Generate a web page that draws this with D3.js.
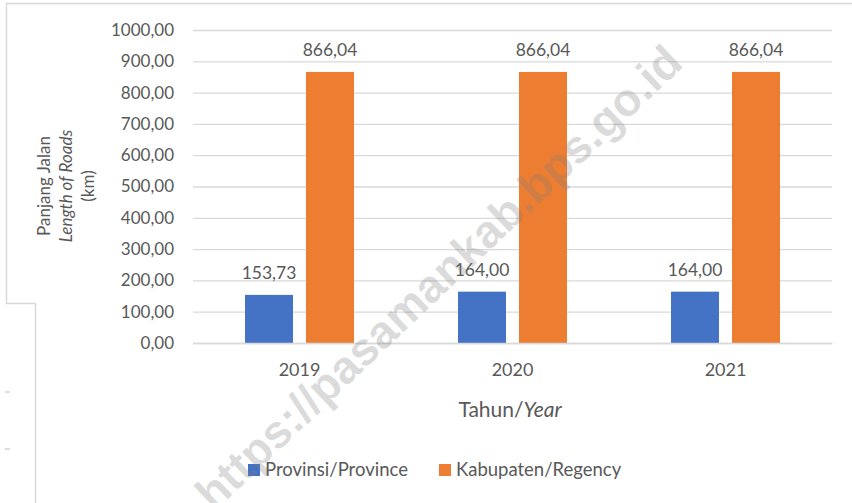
<!DOCTYPE html>
<meta charset="utf-8">
<script src="https://d3js.org/d3.v7.min.js"></script>
<style>
  body { margin: 0; background: #fff; }
  text { font-family: Lato, "Open Sans", sans-serif; fill: #595959; }
</style>
<div id="my_dataviz"></div>
<script>
// data
var years = ["2019", "2020", "2021"];
var series = ["Provinsi/Province", "Kabupaten/Regency"];
var provinsi = [153.73, 164.00, 164.00];
var kabupaten = [866.04, 866.04, 866.04];
var yTicks = [0, 100, 200, 300, 400, 500, 600, 700, 800, 900, 1000];
var colors = ["#4472C4", "#ED7D31"];

var width = 852, height = 503;

var svg = d3.select("#my_dataviz")
  .append("svg")
    .attr("width", width)
    .attr("height", height);

// frame lines left over from the page layout
svg.append("path")
  .attr("d", "M852,3.5 H6.5 V303.5 H35.5 V503")
  .attr("fill", "none")
  .attr("stroke", "#d9d9d9")
  .attr("stroke-width", 1.5);
svg.selectAll(".dash")
  .data([392, 449])
  .enter().append("line")
    .attr("x1", 5).attr("x2", 10)
    .attr("y1", function(d){ return d; }).attr("y2", function(d){ return d; })
    .attr("stroke", "#bfbfbf");

// scales
var y = d3.scaleLinear().domain([0, 1000]).range([343, 30]);
var x = d3.scaleBand().domain(years).range([193, 832]);
var x1 = d3.scaleBand().domain(series).range([-54.5, 54.5]).paddingInner(0.213);

var fmt = function(v){ return d3.format(".2f")(v).replace(".", ","); };

// gridlines + y labels
var yAxis = d3.axisLeft(y).tickValues(yTicks).tickSize(-(832 - 193)).tickFormat(fmt).tickPadding(19);
var gy = svg.append("g").attr("transform", "translate(193,0)").call(yAxis);
gy.select(".domain").remove();
gy.selectAll(".tick line").attr("stroke", "#d9d9d9").attr("stroke-width", 1.3);
gy.selectAll(".tick text").style("font-size", "17px").attr("fill", "#595959");

// bars
var rows = years.map(function(yr, i){ return {year: yr, values: [provinsi[i], kabupaten[i]]}; });

var groups = svg.selectAll(".grp")
  .data(rows)
  .enter().append("g")
    .attr("transform", function(d){ return "translate(" + (x(d.year) + x.bandwidth() / 2) + ",0)"; });

groups.selectAll("rect")
  .data(function(d){ return d.values.map(function(v, j){ return {s: series[j], v: v, c: colors[j]}; }); })
  .enter().append("rect")
    .attr("x", function(d){ return x1(d.s); })
    .attr("width", x1.bandwidth())
    .attr("y", function(d){ return y(d.v); })
    .attr("height", function(d){ return y(0) - y(d.v); })
    .attr("fill", function(d){ return d.c; });

groups.selectAll(".lbl")
  .data(function(d){ return d.values.map(function(v, j){ return {s: series[j], v: v}; }); })
  .enter().append("text")
    .attr("x", function(d){ return x1(d.s) + x1.bandwidth() / 2; })
    .attr("y", function(d){ return y(d.v) - 16; })
    .attr("text-anchor", "middle")
    .style("font-size", "17.5px")
    .text(function(d){ return fmt(d.v); });

// x labels
var gx = svg.append("g").attr("transform", "translate(0,343)")
  .call(d3.axisBottom(x).tickSize(0).tickPadding(20));
gx.select(".domain").attr("stroke", "#d9d9d9").attr("stroke-width", 1.3);
gx.selectAll(".tick text").style("font-size", "18px").attr("fill", "#595959");

// axis titles
var yt = svg.append("text")
  .attr("transform", "translate(71,186) rotate(-90)")
  .attr("text-anchor", "middle")
  .style("font-size", "17px");
yt.append("tspan").attr("x", 0).attr("dy", "-21").text("Panjang Jalan");
yt.append("tspan").attr("x", 0).attr("dy", "22").style("font-style", "italic").text("Length of Roads");
yt.append("tspan").attr("x", 0).attr("dy", "22").text("(km)");

var xt = svg.append("text")
  .attr("x", 510).attr("y", 417)
  .attr("text-anchor", "middle")
  .style("font-size", "21px");
xt.append("tspan").text("Tahun/");
xt.append("tspan").style("font-style", "italic").text("Year");

// legend
var legX = [248, 439];
var leg = svg.selectAll(".leg")
  .data(series)
  .enter().append("g")
    .attr("transform", function(d, i){ return "translate(" + legX[i] + ",464)"; });
leg.append("rect").attr("width", 12).attr("height", 12)
  .attr("fill", function(d, i){ return colors[i]; });
leg.append("text").attr("x", 17).attr("y", 12)
  .style("font-size", "18.5px")
  .text(function(d){ return d; });

// watermark
svg.append("text")
  .attr("transform", "translate(441,280) rotate(-43.5)")
  .attr("text-anchor", "middle")
  .attr("dominant-baseline", "middle")
  .style("font-family", "'Liberation Sans', Arial, sans-serif")
  .style("font-weight", "bold")
  .style("font-size", "46px")
  .style("fill", "#7f7f7f")
  .style("fill-opacity", 0.28)
  .text("https://pasamankab.bps.go.id");
</script>
